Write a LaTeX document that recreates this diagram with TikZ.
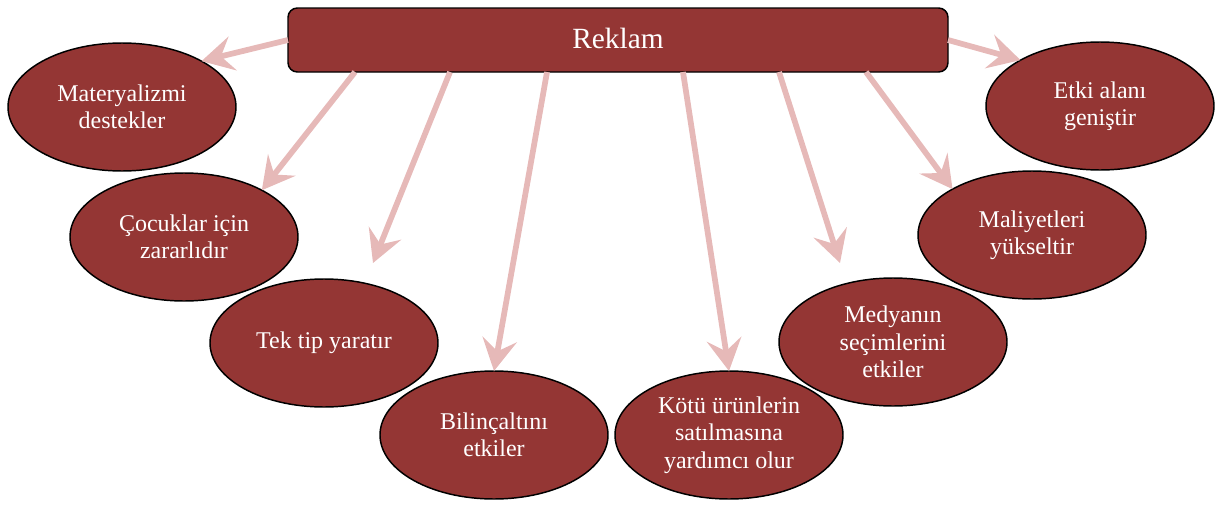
\documentclass[tikz,border=0pt]{standalone}
\usepackage{fontspec}
\setmainfont{Liberation Serif}
\usetikzlibrary{arrows.meta,shapes.geometric}
\definecolor{wine}{HTML}{943634}
\definecolor{rosy}{HTML}{E6B9B8}
\begin{document}
\begin{tikzpicture}[x=0.75pt,y=-0.75pt,
  topic/.style={draw=black, line width=1.1pt, fill=wine, rounded corners=7pt,
    minimum width=495pt, minimum height=48pt, inner sep=0pt, outer sep=0pt,
    text=white, text depth=0.25em, font=\fontsize{22}{26}\selectfont},
  idea/.style={ellipse, draw=black, line width=1.1pt, fill=wine,
    minimum width=171pt, minimum height=96pt, inner sep=0pt, outer sep=0pt,
    text=white, align=center, font=\fontsize{18}{20.6}\selectfont},
  link/.style={draw=rosy, line width=4.3pt,
    -{Stealth[length=24pt,width=26pt,inset=9pt]}}]
\useasboundingbox (0,0) rectangle (1215,504);

% central topic
\node[topic] (R) at (618,40) {Reklam};

% surrounding ideas
\node[idea] (e1) at (122,107)  {Materyalizmi\\destekler};
\node[idea] (e2) at (184,237)  {Çocuklar için\\zararlıdır};
\node[idea] (e3) at (324,343)  {Tek tip yaratır};
\node[idea] (e4) at (494,435)  {Bilinçaltını\\etkiler};
\node[idea] (e5) at (729,435)  {Kötü ürünlerin\\satılmasına\\yardımcı olur};
\node[idea] (e6) at (893,342)  {Medyanın\\seçimlerini\\etkiler};
\node[idea] (e7) at (1032,235) {Maliyetleri\\yükseltir};
\node[idea] (e8) at (1100,106) {Etki alanı\\geniştir};

% arrow origins along the lower edge of the topic box
\coordinate (s2) at ([xshift=67*0.75pt]R.south west);
\coordinate (s3) at ([xshift=162*0.75pt]R.south west);
\coordinate (s4) at ([xshift=259*0.75pt]R.south west);
\coordinate (s5) at ([xshift=395*0.75pt]R.south west);
\coordinate (s6) at ([xshift=491*0.75pt]R.south west);
\coordinate (s7) at ([xshift=578*0.75pt]R.south west);

% free arrow ends
\coordinate (t3) at (373,263);
\coordinate (t6) at (840,263);

% arrows
\draw[link] (R.west) -- (e1.30);
\draw[link] (s2) -- (e2.31);
\draw[link] (s3) -- (t3);
\draw[link] (s4) -- (e4.90);
\draw[link] (s5) -- (e5.90);
\draw[link] (s6) -- (t6);
\draw[link] (s7) -- (e7.150);
\draw[link] (R.east) -- (e8.150);
\end{tikzpicture}
\end{document}
